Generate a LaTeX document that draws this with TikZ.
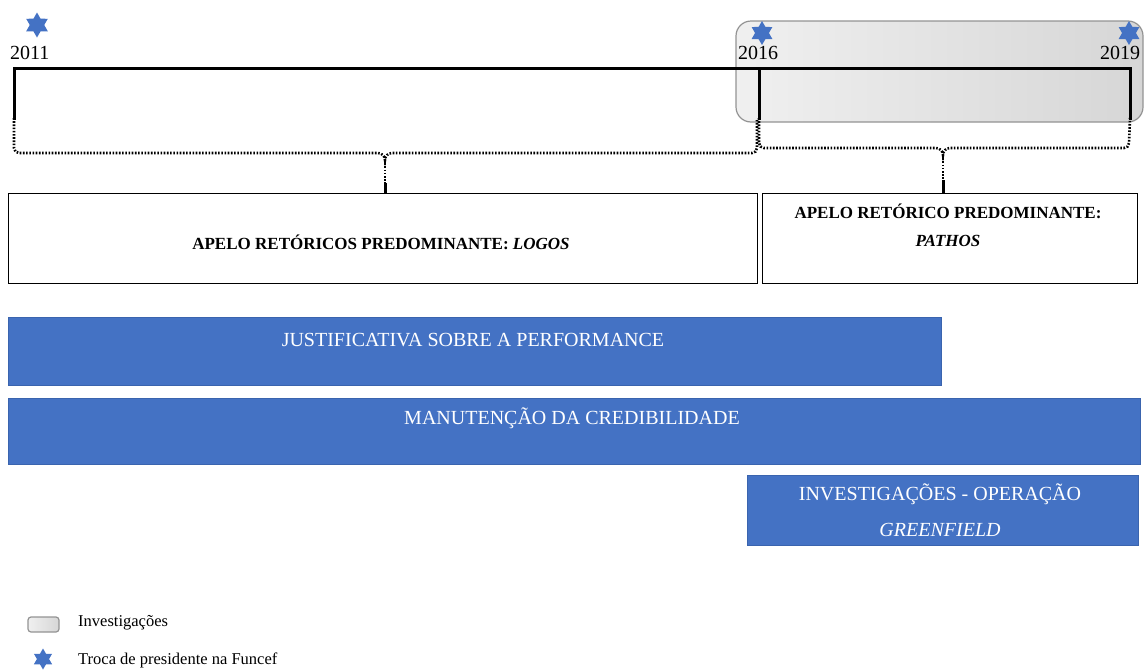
\documentclass[tikz,border=0pt]{standalone}
\usepackage{fontspec}
\setmainfont{Liberation Serif}
\usetikzlibrary{shapes.geometric}
\definecolor{barblue}{HTML}{4472C4}
\definecolor{barborder}{HTML}{3A64AE}
\definecolor{starblue}{HTML}{4472C4}
\tikzset{
  yearstar/.style={star, star points=6, star point ratio=1.73, fill=starblue, draw=none, inner sep=0pt, minimum size=#1},
  yearstar/.default=25pt,
  yearlbl/.style={font=\fontsize{20}{24}\selectfont, inner sep=0pt, anchor=base west},
  tl/.style={line width=3pt, line cap=rect},
  brace/.style={line width=2.6pt, dash pattern=on 1.6pt off 1.6pt},
  stem/.style={line width=3pt},
  wbox/.style={draw=black, line width=1.3pt, fill=white, anchor=north west, inner sep=0pt},
  bbox/.style={draw=barborder, line width=1.2pt, fill=barblue, anchor=north west, inner sep=0pt},
  bluetxt/.style={text=white, font=\fontsize{20}{24}\selectfont, inner sep=0pt},
  boldtxt/.style={font=\bfseries\fontsize{17}{20}\selectfont, inner sep=0pt},
  invest/.style={draw=gray!85, line width=1.2pt, left color=gray!12, right color=gray!32},
  legtxt/.style={font=\fontsize{16.5}{20}\selectfont, inner sep=0pt, anchor=west}
}
\begin{document}
\begin{tikzpicture}[x=1pt,y=-1pt]
\useasboundingbox (0,0) rectangle (1144,670);
% investigation period
\draw[invest, rounded corners=15pt] (736,21) rectangle (1143,122);
% coordinates of timeline
\coordinate (a0) at (14,68);
\coordinate (a1) at (14,118);
\coordinate (b0) at (759,68);
\coordinate (b1) at (759,118);
\coordinate (c0) at (1130,68);
\coordinate (c1) at (1130,118);
% timeline
\draw[tl] (a1) -- (a0) -- (c0) -- (c1);
\draw[tl] (b0) -- (b1);
% stars and years
\node[yearstar] (s2011) at (37,25) {};
\node[yearstar=24pt] (s2016) at (762,33) {};
\node[yearstar=24pt] (s2019) at (1129,33) {};
\node[yearlbl] (y2011) at (10,59) {2011};
\node[yearlbl] (y2016) at (738,59) {2016};
\node[yearlbl] (y2019) at (1100,59) {2019};
% boxes
\node[wbox, minimum width=749pt, minimum height=90pt] (logos) at (8,193) {};
\node[boldtxt] (logostxt) at (381,242) {APELO RETÓRICOS PREDOMINANTE: \textit{LOGOS}};
\node[wbox, minimum width=375pt, minimum height=90pt] (pathos) at (762,193) {};
\node[boldtxt] (pathos1) at (948,211) {APELO RETÓRICO PREDOMINANTE:};
\node[boldtxt] (pathos2) at (948,241) {\textit{PATHOS}};
% braces
\coordinate (m1) at (385,160);
\coordinate (m2) at (943,155);
\draw[brace] (a1) -- (14,148) to[out=-90,in=180] (19,153) -- (378,153) to[out=0,in=90] (m1) to[out=90,in=180] (392,153) -- (752,153) to[out=0,in=-90] (757,148) -- (757,120);
\draw[brace] (m1) -- (385,183);
\draw[stem] (385,183) -- (logos.north -| m1);
\draw[brace] (b1) -- (759,143) to[out=-90,in=180] (764,148) -- (936,148) to[out=0,in=90] (m2) to[out=90,in=180] (950,148) -- (1124,148) to[out=0,in=-90] (1129,143) -- (c1);
\draw[brace] (m2) -- (943,180);
\draw[stem] (943,180) -- (pathos.north -| m2);
% blue bars
\node[bbox, minimum width=933pt, minimum height=68pt] (perf) at (8,317) {};
\node[bluetxt] (perftxt) at (473,340) {JUSTIFICATIVA SOBRE A PERFORMANCE};
\node[bbox, minimum width=1132pt, minimum height=66pt] (cred) at (8,398) {};
\node[bluetxt] (credtxt) at (572,418) {MANUTENÇÃO DA CREDIBILIDADE};
\node[bbox, minimum width=391pt, minimum height=70pt] (inv) at (747,475) {};
\node[bluetxt] (invtxt1) at (940,494) {INVESTIGAÇÕES - OPERAÇÃO};
\node[bluetxt] (invtxt2) at (940,530) {\textit{GREENFIELD}};
% legend
\draw[invest, rounded corners=3pt] (28,617) rectangle (59,632);
\node[legtxt] (leg1) at (78,623) {Investigações};
\node[yearstar=21pt] (legstar) at (43,659) {};
\node[legtxt] (leg2) at (78,660) {Troca de presidente na Funcef};
\end{tikzpicture}
\end{document}
